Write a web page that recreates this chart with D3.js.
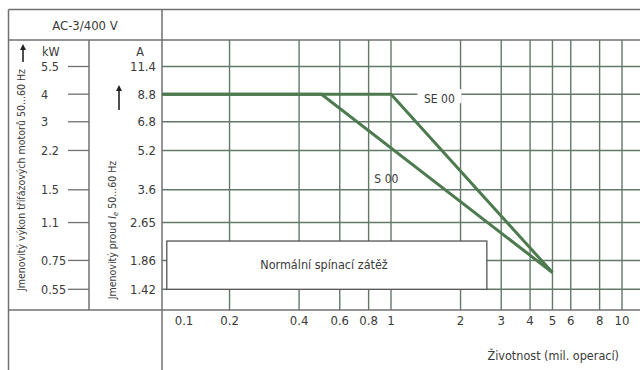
<!DOCTYPE html>
<html><head><meta charset="utf-8">
<script src="https://cdn.jsdelivr.net/npm/d3@7"></script>
<style>
html,body{margin:0;padding:0;background:#fff;}
text{font-family:"Liberation Sans Narrow","DejaVu Sans Condensed","Roboto Condensed",sans-serif;fill:#3a3a3a;}
</style></head>
<body><svg id="c" width="640" height="370"></svg>
<script>
// ---- data ----
const currentTicks = [11.4, 8.8, 6.8, 5.2, 3.6, 2.65, 1.86, 1.42];   // A
const powerTicks   = [5.5, 4, 3, 2.2, 1.5, 1.1, 0.75, 0.55];         // kW
const lifeTicks    = [0.1, 0.2, 0.4, 0.6, 0.8, 1, 2, 3, 4, 5, 6, 8, 10];
const lifeTickLabels = ["0.1","0.2","0.4","0.6","0.8","1","2","3","4","5","6","8","10"];
const seriesNames  = ["S 00", "SE 00"];
const s00Life      = [0.1, 0.5, 5];
const s00Current   = [8.8, 8.8, 1.66];
const se00Life     = [0.1, 1, 5];
const se00Current  = [8.8, 8.8, 1.66];
const boxLife      = [0.107, 2.6];
const boxCurrent   = [2.23, 1.42];

const svg = d3.select("#c");
const L = 8.5, SEP = 89, PL = 162, R = 640, TOP = 9.5, HB = 40, PB = 310;
const x = d3.scaleLog().domain([0.1, 10]).range([160, 622]);
const y = d3.scaleLog().domain([1.42, 11.4]).range([289.3, 66.5]);
const grid = "#62796a", frame = "#707070", lineC = "#4d7a4f";

const defs = svg.append("defs");
defs.append("clipPath").attr("id","plot").append("rect")
  .attr("x", PL).attr("y", HB).attr("width", R-PL).attr("height", PB-HB);

// grid
const g = svg.append("g");
g.selectAll(".vg").data(lifeTicks.filter(d => d > 0.1)).join("line")
  .attr("x1", d => x(d)).attr("x2", d => x(d)).attr("y1", HB).attr("y2", PB)
  .attr("stroke", grid).attr("stroke-width", 1.4);
g.selectAll(".hg").data(currentTicks).join("line")
  .attr("x1", PL).attr("x2", R).attr("y1", d => y(d)).attr("y2", d => y(d))
  .attr("stroke", grid).attr("stroke-width", 1.4);

// frame
const fr = [[L,TOP,R,TOP],[L,HB,R,HB],[L,PB,R,PB],[L,TOP,L,370],[PL,TOP,PL,370],[SEP,HB,SEP,PB]];
svg.selectAll(".fr").data(fr).join("line")
  .attr("x1",d=>d[0]).attr("y1",d=>d[1]).attr("x2",d=>d[2]).attr("y2",d=>d[3])
  .attr("stroke", frame).attr("stroke-width", 1.5);

// box
svg.append("rect")
  .attr("x", x(boxLife[0])).attr("y", y(boxCurrent[0]))
  .attr("width", x(boxLife[1]) - x(boxLife[0])).attr("height", y(boxCurrent[1]) - y(boxCurrent[0]))
  .attr("fill", "#fff").attr("stroke", "#555").attr("stroke-width", 1.3);
svg.append("text").attr("x", 324).attr("y", (y(boxCurrent[0]) + y(boxCurrent[1]))/2 + 4)
  .attr("text-anchor","middle").attr("font-size", 12.5).text("Normální spínací zátěž");

// series
const lg = d3.line().x(d => x(d[0])).y(d => y(d[1]));
const series = [d3.zip(s00Life, s00Current), d3.zip(se00Life, se00Current)];
svg.append("g").attr("clip-path","url(#plot)").selectAll("path").data(series).join("path")
  .attr("d", lg).attr("fill","none").attr("stroke", lineC).attr("stroke-width", 3)
  .attr("stroke-linejoin","miter");

// series labels
svg.append("text").attr("x", x(0.955)).attr("y", y(3.85)).attr("text-anchor","middle")
  .attr("font-size", 12).attr("fill","#444").text(seriesNames[0]);
const lbl = svg.append("g");
lbl.append("rect").attr("x", x(1.62)-22).attr("y", y(8.8)-5).attr("width", 44).attr("height", 14).attr("fill","#fff");
lbl.append("text").attr("x", x(1.62)).attr("y", y(8.8)+9).attr("text-anchor","middle")
  .attr("font-size", 12).attr("fill","#444").text(seriesNames[1]);

// x tick labels
svg.selectAll(".xt").data(lifeTicks).join("text")
  .attr("x", (d,i) => i === 0 ? x(d) + 24 : x(d)).attr("y", 325)
  .attr("text-anchor","middle").attr("font-size", 13).text((d,i) => lifeTickLabels[i]);
svg.append("text").attr("x", 619).attr("y", 360).attr("text-anchor","end")
  .attr("font-size", 12.5).text("Životnost (mil. operací)");

// left axes
svg.append("text").attr("x", 85).attr("y", 30).attr("text-anchor","middle")
  .attr("font-size", 13).text("AC-3/400 V");
svg.append("text").attr("x", 42).attr("y", 56).attr("font-size", 12.5).text("kW");
svg.append("text").attr("x", 140).attr("y", 56).attr("text-anchor","middle").attr("font-size", 12.5).text("A");
svg.selectAll(".kw").data(powerTicks).join("text")
  .attr("x", 41).attr("y", (d,i) => y(currentTicks[i]) + 4.5).attr("font-size", 12.5).text(d => d);
svg.selectAll(".kwt").data(powerTicks).join("line")
  .attr("x1", 68).attr("x2", SEP)
  .attr("y1", (d,i) => y(currentTicks[i])).attr("y2", (d,i) => y(currentTicks[i]))
  .attr("stroke", frame).attr("stroke-width", 1.3);
svg.selectAll(".at").data(currentTicks).join("text")
  .attr("x", 156).attr("y", d => y(d) + 4.5).attr("text-anchor","end").attr("font-size", 13).text(d => d);

// arrows
function arrow(ax, y1, y2) {
  svg.append("line").attr("x1",ax).attr("x2",ax).attr("y1",y1).attr("y2",y2+3)
    .attr("stroke","#222").attr("stroke-width",1.6);
  svg.append("path").attr("d", `M${ax-3},${y2+6}L${ax},${y2}L${ax+3},${y2+6}Z`).attr("fill","#222");
}
arrow(23, 62, 44);
arrow(119, 110, 85);

// rotated labels
svg.append("text").attr("transform","translate(25,180) rotate(-90)").attr("text-anchor","middle")
  .attr("font-size", 10.5).text("Jmenovitý výkon třífázových motorů 50...60 Hz");
const t2 = svg.append("text").attr("transform","translate(116,230) rotate(-90)").attr("text-anchor","middle")
  .attr("font-size", 10.5);
t2.append("tspan").text("Jmenovitý proud ");
t2.append("tspan").attr("font-style","italic").text("I");
t2.append("tspan").attr("font-style","italic").attr("font-size", 7.5).attr("dy", 2).text("e");
t2.append("tspan").attr("dy", -2).text(" 50...60 Hz");
</script></body></html>
